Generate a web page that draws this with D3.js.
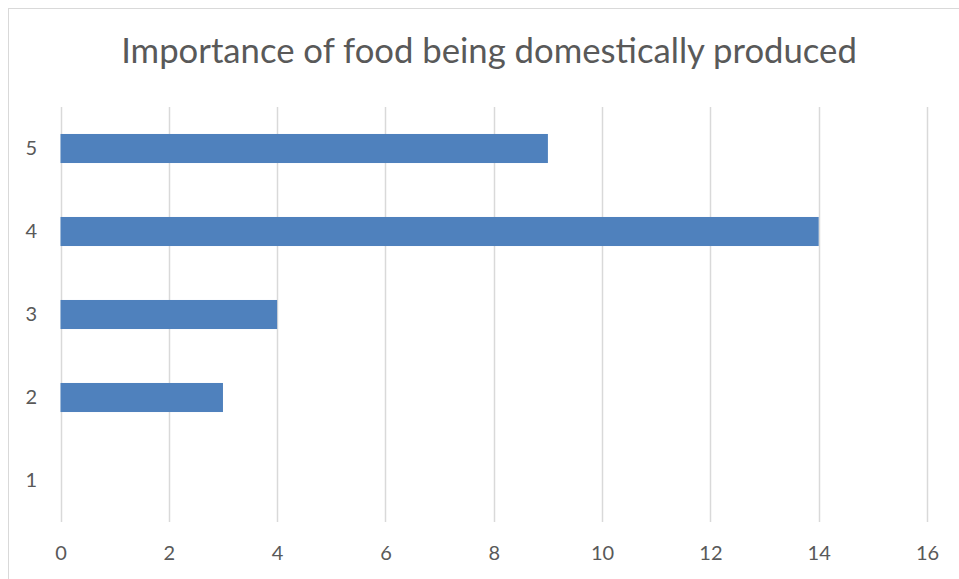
<!DOCTYPE html>
<html>
<head>
<meta charset="utf-8">
<script src="https://cdn.jsdelivr.net/npm/d3@7"></script>
<style>
  body { margin: 0; background: #fff; }
  text { font-family: Lato, "Open Sans", sans-serif; fill: #595959; }
</style>
</head>
<body>
<div id="chart"></div>
<script>
// Chart data
const title = "Importance of food being domestically produced";
const categories = ["1", "2", "3", "4", "5"];
const values = [0, 3, 4, 14, 9];
const xTicks = [0, 2, 4, 6, 8, 10, 12, 14, 16];

const width = 959;
const height = 579;

const svg = d3.select("#chart")
    .append("svg")
    .attr("width", width)
    .attr("height", height);

// Outer chart border (clipped at right and bottom as in the original)
svg.append("rect")
    .attr("x", 8.5)
    .attr("y", 8.5)
    .attr("width", width)
    .attr("height", height)
    .attr("fill", "none")
    .attr("stroke", "#d9d9d9");

// Title
svg.append("text")
    .attr("x", 489)
    .attr("y", 63)
    .attr("text-anchor", "middle")
    .style("font-size", "34.7px")
    .text(title);

// Scales
const xScale = d3.scaleLinear()
    .domain([0, 16])
    .range([60.5, 927]);

const yScale = d3.scaleBand()
    .domain(categories.slice().reverse())
    .range([107, 522])
    .paddingInner(0.65)
    .paddingOuter(0.325);

// Vertical gridlines
svg.append("g")
    .selectAll("line")
    .data(xTicks)
    .enter()
    .append("line")
    .attr("x1", d => Math.round(xScale(d)) + 0.5)
    .attr("x2", d => Math.round(xScale(d)) + 0.5)
    .attr("y1", 107)
    .attr("y2", 522)
    .attr("stroke", "#d9d9d9")
    .attr("stroke-width", 1.5);

// Bars
svg.append("g")
    .selectAll("rect")
    .data(categories.map((c, i) => ({ cat: c, value: values[i] })))
    .enter()
    .append("rect")
    .attr("x", xScale(0))
    .attr("y", d => yScale(d.cat))
    .attr("width", d => xScale(d.value) - xScale(0))
    .attr("height", yScale.bandwidth())
    .attr("fill", "#4f81bd");

// X axis labels
const xAxis = svg.append("g")
    .attr("transform", "translate(0, 522)")
    .call(d3.axisBottom(xScale).tickValues(xTicks).tickSize(0).tickPadding(24));
xAxis.select(".domain").remove();
xAxis.attr("font-size", null).attr("font-family", null);
xAxis.selectAll("text").style("font-size", "20px").attr("fill", "#595959");

// Y axis labels
const yAxis = svg.append("g")
    .attr("transform", "translate(60, 0)")
    .call(d3.axisLeft(yScale).tickSize(0).tickPadding(23));
yAxis.select(".domain").remove();
yAxis.attr("font-size", null).attr("font-family", null);
yAxis.selectAll("text").style("font-size", "20px").attr("fill", "#595959");
</script>
</body>
</html>
